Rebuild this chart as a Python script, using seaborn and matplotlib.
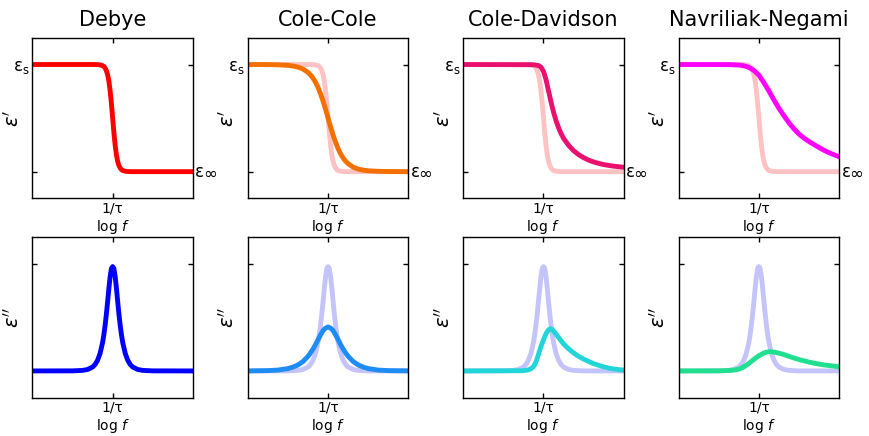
import matplotlib
matplotlib.use("Agg")
import matplotlib.pyplot as plt
import matplotlib.transforms as mtransforms
import seaborn as sns

# ---------------- data (log f relative to 1/tau; eps' normalised eps_inf=0, eps_s=1) ----------------
TITLES = ["Debye", "Cole-Cole", "Cole-Davidson", "Navriliak-Negami"]

DEBYE_REAL_X = [-8, -2, -1.5, -1.25, -1, -0.875, -0.75, -0.625, -0.5, -0.375, -0.25, -0.125, 0,
                0.125, 0.25, 0.375, 0.5, 0.625, 0.75, 0.875, 1, 1.25, 1.5, 2, 8]
DEBYE_REAL_Y = [1.0, 1.0, 0.999, 0.996, 0.989, 0.981, 0.967, 0.943, 0.905, 0.844, 0.755, 0.637, 0.5,
                0.363, 0.245, 0.156, 0.095, 0.057, 0.033, 0.019, 0.011, 0.004, 0.001, 0.0, 0.0]

DEBYE_IMAG_X = [-8, -4, -3, -2.5, -2, -1.75, -1.5, -1.25, -1, -0.875, -0.75, -0.625, -0.5, -0.375, -0.25, -0.125, 0,
                0.125, 0.25, 0.375, 0.5, 0.625, 0.75, 0.875, 1, 1.25, 1.5, 1.75, 2, 2.5, 3, 4, 8]
DEBYE_IMAG_Y = [0.0, 0.0003, 0.0025, 0.0067, 0.018, 0.030, 0.050, 0.082, 0.133, 0.169, 0.213, 0.265, 0.324, 0.386, 0.440, 0.478, 0.487,
                0.478, 0.440, 0.386, 0.324, 0.265, 0.213, 0.169, 0.133, 0.082, 0.050, 0.030, 0.018, 0.0067, 0.0025, 0.0003, 0.0]

CC_REAL_X = [-8, -6, -5, -4, -3.5, -3, -2.5, -2, -1.75, -1.5, -1.25, -1, -0.75, -0.5, -0.25, 0,
             0.25, 0.5, 0.75, 1, 1.25, 1.5, 1.75, 2, 2.5, 3, 3.5, 4, 5, 6, 8]
CC_REAL_Y = [1.0, 0.999, 0.997, 0.992, 0.986, 0.976, 0.958, 0.926, 0.903, 0.873, 0.834, 0.786, 0.727, 0.658, 0.582, 0.5,
             0.418, 0.342, 0.273, 0.214, 0.166, 0.127, 0.097, 0.074, 0.042, 0.024, 0.014, 0.008, 0.003, 0.001, 0.0]

CC_IMAG_X = [-8, -6, -5, -4, -3.5, -3, -2.5, -2, -1.75, -1.5, -1.25, -1, -0.75, -0.5, -0.25, 0,
             0.25, 0.5, 0.75, 1, 1.25, 1.5, 1.75, 2, 2.5, 3, 3.5, 4, 5, 6, 8]
CC_IMAG_Y = [0.0002, 0.0015, 0.004, 0.011, 0.018, 0.028, 0.044, 0.068, 0.084, 0.102, 0.123, 0.146, 0.168, 0.188, 0.200, 0.205,
             0.200, 0.188, 0.168, 0.146, 0.123, 0.102, 0.084, 0.068, 0.044, 0.028, 0.018, 0.011, 0.004, 0.0015, 0.0002]

CD_REAL_X = [-8, -1, -0.5, -0.25, 0, 0.25, 0.5, 0.75, 1.0, 1.25, 1.5, 1.75, 2.0, 2.5, 3.0, 3.5, 4.0,
             4.5, 5.0, 5.5, 6.0, 6.5, 7.0, 7.5, 8.0]
CD_REAL_Y = [1.0, 0.998, 0.99, 0.975, 0.935, 0.86, 0.755, 0.65, 0.555, 0.475, 0.41, 0.355, 0.31, 0.245, 0.195, 0.158, 0.13,
             0.107, 0.09, 0.077, 0.066, 0.058, 0.051, 0.046, 0.041]

CD_IMAG_X = [-8, -2, -1.5, -1.25, -1.0, -0.75, -0.5, -0.25, 0, 0.25, 0.5, 0.7, 0.9, 1.25, 1.5, 2, 2.5, 3, 3.5, 4,
             4.5, 5, 5.5, 6, 6.5, 7, 7.5, 8]
CD_IMAG_Y = [0.0, 0.001, 0.005, 0.01, 0.02, 0.041, 0.077, 0.115, 0.145, 0.174, 0.192, 0.197, 0.192, 0.172, 0.156, 0.126, 0.103, 0.084, 0.068, 0.055,
             0.044, 0.034, 0.026, 0.019, 0.013, 0.009, 0.006, 0.004]

HN_REAL_X = [-8, -3, -2, -1.5, -1, -0.5, 0, 0.5, 1, 1.5, 2, 2.5, 3, 3.5, 4, 4.5, 5, 5.5, 6, 6.5, 7, 7.5, 8]
HN_REAL_Y = [1.0, 0.999, 0.995, 0.988, 0.973, 0.945, 0.9, 0.83, 0.752, 0.668, 0.59, 0.52, 0.455, 0.398, 0.35, 0.312,
             0.28, 0.252, 0.224, 0.198, 0.176, 0.157, 0.138]

HN_IMAG_X = [-8, -4, -3, -2.5, -2, -1.5, -1, -0.5, 0, 0.5, 1, 1.5, 2, 2.5, 3, 3.5, 4, 4.5, 5, 5.5, 6, 6.5, 7, 7.5, 8]
HN_IMAG_Y = [0.0, 0.0005, 0.002, 0.004, 0.008, 0.019, 0.035, 0.054, 0.071, 0.084, 0.09, 0.088, 0.083, 0.076, 0.068, 0.06,
             0.053, 0.047, 0.041, 0.036, 0.032, 0.028, 0.025, 0.022, 0.019]

REAL_SERIES = [(DEBYE_REAL_X, DEBYE_REAL_Y), (CC_REAL_X, CC_REAL_Y), (CD_REAL_X, CD_REAL_Y), (HN_REAL_X, HN_REAL_Y)]
IMAG_SERIES = [(DEBYE_IMAG_X, DEBYE_IMAG_Y), (CC_IMAG_X, CC_IMAG_Y), (CD_IMAG_X, CD_IMAG_Y), (HN_IMAG_X, HN_IMAG_Y)]
REAL_COLORS = ["#ff0000", "#f37000", "#ea1070", "#ff00ff"]
IMAG_COLORS = ["#0000ff", "#1e8cf5", "#22d5d8", "#20e090"]
REF_REAL_COLOR = "#ffc2c2"
REF_IMAG_COLOR = "#c4c4fa"

X_TICK_LABEL = "1/τ"
X_LABEL = "log $f$"
EPS_S = "ε$_{\\rm s}$"
EPS_SYMBOL = "ε"
INF_SYMBOL = "∞"

# ---------------- figure ----------------
sns.set_style("ticks")
plt.rcParams["font.family"] = ["DejaVu Sans"]
plt.rcParams["mathtext.fontset"] = "dejavusans"

fig, axes = plt.subplots(2, 4, figsize=(8.7, 4.36), dpi=100)
fig.subplots_adjust(left=0.0371, right=0.9647, top=0.9135, bottom=0.0878, wspace=0.34, hspace=0.24)

LW = 3.5


def style_axis(ax):
    ax.set_xlim(-8, 8)
    ax.set_xticks([0])
    ax.set_xticklabels([X_TICK_LABEL])
    ax.tick_params(axis="both", direction="in", top=True, right=True, length=3.5, width=1.0,
                   labelsize=10, pad=2, color="black", labelcolor="black")
    ax.tick_params(axis="y", labelsize=12, pad=2)
    for sp in ax.spines.values():
        sp.set_color("black")
        sp.set_linewidth(1.0)
        sp.set_visible(True)
    ax.set_xlabel(X_LABEL, fontsize=10, labelpad=2, color="black")


for c in range(4):
    ax = axes[0, c]
    if c > 0:
        sns.lineplot(x=DEBYE_REAL_X, y=DEBYE_REAL_Y, ax=ax, color=REF_REAL_COLOR, linewidth=LW,
                     sort=False, estimator=None)
    xs, ys = REAL_SERIES[c]
    sns.lineplot(x=xs, y=ys, ax=ax, color=REAL_COLORS[c], linewidth=LW, sort=False, estimator=None)
    ax.set_ylim(-0.25, 1.25)
    style_axis(ax)
    ax.set_yticks([0, 1])
    ax.set_yticklabels(["", EPS_S])
    trans = mtransforms.blended_transform_factory(ax.transAxes, ax.transData)
    ax.annotate(EPS_SYMBOL, xy=(1.0, 0), xycoords=trans, xytext=(1.6, 0), textcoords="offset points",
                ha="left", va="center", fontsize=12, color="black", annotation_clip=False)
    ax.annotate(INF_SYMBOL, xy=(1.0, 0), xycoords=trans, xytext=(7.0, -1.8), textcoords="offset points",
                ha="left", va="center", fontsize=12, color="black", annotation_clip=False)
    ax.set_ylabel("$\\varepsilon'$", fontsize=14, color="black")
    ax.yaxis.set_label_coords(-0.06, 0.5)
    ax.set_title(TITLES[c], fontsize=15, pad=8.7, color="black")

    ax = axes[1, c]
    if c > 0:
        sns.lineplot(x=DEBYE_IMAG_X, y=DEBYE_IMAG_Y, ax=ax, color=REF_IMAG_COLOR, linewidth=LW,
                     sort=False, estimator=None)
    xs, ys = IMAG_SERIES[c]
    sns.lineplot(x=xs, y=ys, ax=ax, color=IMAG_COLORS[c], linewidth=LW, sort=False, estimator=None)
    ax.set_ylim(-0.125, 0.625)
    style_axis(ax)
    ax.set_yticks([0, 0.5])
    ax.set_yticklabels(["", ""])
    ax.set_ylabel("$\\varepsilon''$", fontsize=14, color="black")
    ax.yaxis.set_label_coords(-0.06, 0.5)

fig.savefig("out.png", dpi=100)
